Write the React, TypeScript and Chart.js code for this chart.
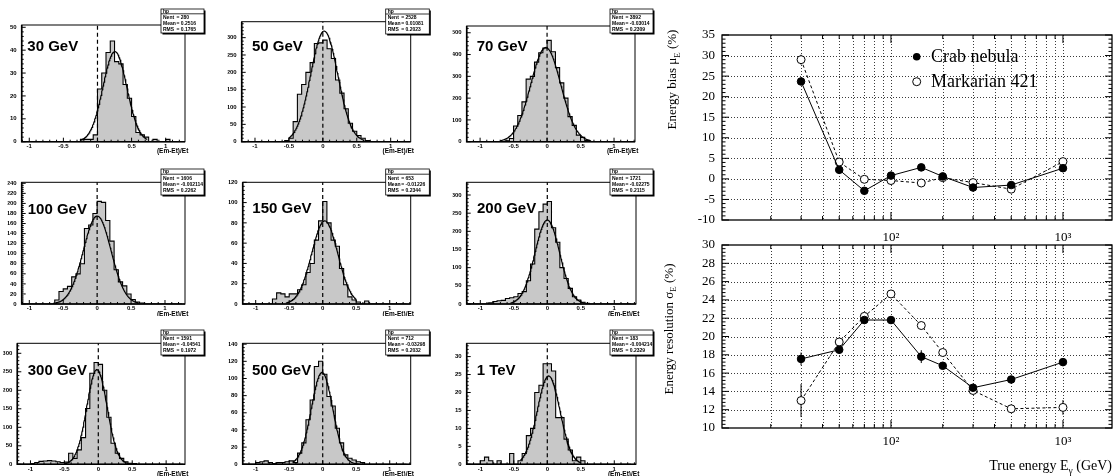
import React, { useEffect, useRef } from 'react';
import { Chart, registerables } from 'chart.js';

Chart.register(...registerables);

// ---------------- Histogram data: (Em-Et)/Et, 40 bins of width 0.0625 starting at -1.25 ----------------
const BIN_LOW = -1.25;
const BIN_WIDTH = 0.0625;

const panelTitles = ['30 GeV', '50 GeV', '70 GeV', '100 GeV', '150 GeV', '200 GeV', '300 GeV', '500 GeV', '1 TeV'];

const hist30 = [0, 0, 0, 0, 0, 0, 0, 0, 0, 0, 0, 0, 0, 0, 0, 0, 1, 1, 1, 3, 23, 30, 39, 44, 35, 34, 25, 19, 11, 4, 3, 2, 0, 1, 0, 0, 1, 0, 0, 0];
const hist50 = [0, 0, 0, 0, 0, 0, 0, 0, 0, 0, 0, 3, 10, 58, 137, 165, 200, 228, 283, 285, 293, 268, 240, 178, 140, 95, 53, 30, 18, 10, 3, 0, 0, 0, 0, 0, 0, 0, 0, 0];
const hist70 = [0, 0, 0, 0, 0, 0, 0, 0, 0, 0, 4, 15, 72, 120, 183, 287, 300, 365, 408, 430, 465, 413, 340, 270, 200, 115, 75, 30, 20, 6, 0, 0, 0, 0, 0, 0, 0, 0, 0, 0];
const hist100 = [0, 0, 0, 0, 0, 0, 0, 0, 0, 0, 8, 25, 30, 35, 54, 60, 80, 150, 157, 180, 204, 202, 166, 125, 68, 44, 36, 20, 9, 4, 2, 0, 0, 0, 0, 0, 0, 0, 0, 0];
const hist150 = [0, 0, 0, 0, 0, 0, 0, 0, 5, 11, 10, 7, 10, 10, 14, 19, 31, 40, 63, 82, 101, 80, 63, 57, 35, 19, 7, 4, 2, 0, 3, 0, 0, 0, 0, 0, 0, 0, 0, 0];
const hist200 = [0, 0, 0, 0, 0, 0, 3, 7, 9, 10, 15, 17, 20, 29, 34, 64, 110, 206, 254, 275, 282, 210, 170, 100, 70, 43, 20, 11, 5, 2, 0, 0, 0, 0, 0, 0, 0, 0, 0, 0];
const hist300 = [0, 0, 0, 0, 2, 5, 8, 9, 10, 9, 7, 5, 6, 30, 16, 39, 72, 151, 246, 275, 270, 200, 127, 57, 30, 16, 7, 3, 2, 0, 0, 0, 0, 0, 0, 0, 0, 0, 0, 0];
const hist500 = [0, 0, 0, 0, 2, 3, 4, 2, 1, 2, 2, 3, 4, 2, 13, 25, 52, 75, 114, 120, 105, 79, 68, 42, 25, 11, 7, 5, 3, 2, 0, 0, 0, 0, 0, 0, 0, 0, 0, 0];
const hist1000 = [0, 0, 0, 0, 1, 2, 1, 0, 1, 0, 0, 3, 0, 1, 3, 8, 10, 20, 22, 28, 28, 26, 13, 13, 7, 4, 1, 2, 1, 0, 0, 0, 0, 0, 0, 0, 0, 0, 0, 0];
const panelCounts = [hist30, hist50, hist70, hist100, hist150, hist200, hist300, hist500, hist1000];

const statsNent = ['280', '2528', '3892', '1606', '653', '1721', '1591', '712', '183'];
const statsMean = ['0.2516', '0.01081', '-0.03014', '-0.002114', '-0.01226', '-0.02275', '-0.04541', '-0.03298', '-0.004214'];
const statsRms = ['0.1765', '0.2023', '0.2309', '0.2262', '0.2344', '0.2115', '0.1972', '0.2032', '0.2329'];

// Gaussian fit parameters
const fitAmp = [39.4, 319, 432, 175, 82, 231, 256, 107, 24.6];
const fitMean = [0.255, 0.02, -0.02, 0.0, 0.03, 0.0, -0.02, -0.01, 0.02];
const fitSigma = [0.175, 0.2, 0.225, 0.205, 0.195, 0.185, 0.15, 0.16, 0.17];
const fitLo = [-0.25, -0.5, -0.7, -0.65, -0.55, -0.55, -0.5, -0.45, -0.4];
const fitHi = [0.72, 0.6, 0.65, 0.6, 0.5, 0.55, 0.5, 0.55, 0.5];

const xTickValues = [-1, -0.5, 0, 0.5, 1];
const panelXMin = [-1.111, -1.196, -1.2, -1.112, -1.194, -1.203, -1.194, -1.194, -1.203];
const panelXMax = [1.283, 1.295, 1.313, 1.295, 1.313, 1.324, 1.278, 1.313, 1.324];
const panelYMax = [51, 346, 531, 242, 120, 335, 327, 141, 33.7];
const panelYStep = [10, 50, 100, 20, 20, 50, 50, 20, 5];

// ---------------- Energy bias / resolution data ----------------
const energies = [30, 50, 70, 100, 150, 200, 300, 500, 1000];
const crabBias = [23.7, 2.2, -2.9, 0.8, 2.8, 0.6, -2.1, -1.5, 2.6];
const mrkBias = [29.0, 4.1, -0.1, -0.4, -1.0, 0.3, -0.9, -2.5, 4.2];
const crabBiasErr = [0.8, 0.4, 0.4, 0.3, 0.5, 0.4, 0.3, 0.4, 0.5];
const mrkBiasErr = [1.2, 0.5, 0.4, 0.3, 0.4, 0.4, 0.3, 0.4, 0.9];
const crabRes = [17.55, 18.55, 21.8, 21.8, 17.8, 16.8, 14.4, 15.3, 17.2];
const mrkRes = [13.0, 19.4, 22.2, 24.65, 21.2, 18.25, 14.1, 12.1, 12.25];
const crabResErr = [0.7, 0.3, 0.3, 0.4, 0.7, 0.3, 0.2, 0.3, 0.4];
const mrkResErr = [1.8, 0.4, 0.3, 0.4, 0.4, 0.4, 0.3, 0.3, 0.8];

const logGridValues = [20, 30, 40, 50, 60, 70, 80, 90, 100, 200, 300, 400, 500, 600, 700, 800, 900, 1000];
const biasTicks = [-10, -5, 0, 5, 10, 15, 20, 25, 30, 35];
const resTicks = [10, 12, 14, 16, 18, 20, 22, 24, 26, 28, 30];

// ---------------- Layout (page pixels) ----------------
const PANEL_LAYOUT = [
  { canvas: [0, 0, 220, 155], frame: [21.7, 25, 185, 141.7], label: [27.3, 50.7], stats: [161, 9, 43, 24] },
  { canvas: [220, 0, 220, 155], frame: [241.7, 21.7, 410.7, 141.7], label: [252, 50.7], stats: [385.7, 9, 43.6, 25] },
  { canvas: [440, 0, 216, 155], frame: [466.7, 26, 635, 141.7], label: [476.7, 50.7], stats: [610, 9, 43, 24] },
  { canvas: [0, 155, 220, 161], frame: [21.7, 182.3, 185, 304], label: [27.7, 214.3], stats: [161, 169, 43, 26] },
  { canvas: [220, 155, 220, 161], frame: [242.7, 182.3, 410.7, 304], label: [252.3, 213.3], stats: [385.7, 169, 43.6, 26] },
  { canvas: [440, 155, 216, 161], frame: [466.7, 182.3, 636, 304], label: [477, 213.3], stats: [610, 169, 43, 26] },
  { canvas: [0, 316, 220, 160], frame: [17.3, 343.3, 185, 464.3], label: [27.7, 375], stats: [161, 330, 43, 25] },
  { canvas: [220, 316, 220, 160], frame: [242.7, 343.3, 410.7, 464.3], label: [252, 375], stats: [385.7, 330, 43.6, 25] },
  { canvas: [440, 316, 216, 160], frame: [466.7, 343.3, 636, 464.3], label: [476.7, 375], stats: [610, 330, 43, 25] },
];

const SANS = '"Liberation Sans", Arial, Helvetica, sans-serif';
const SERIF = '"Liberation Serif", "Times New Roman", serif';

function HistPanel({ idx }: { idx: number }) {
  const ref = useRef<HTMLCanvasElement | null>(null);
  const L = PANEL_LAYOUT[idx];
  const [cx, cy, cw, ch] = L.canvas;

  useEffect(() => {
    const [fl, ft, fr, fb] = L.frame;
    const YW = 14;
    const XH = 10;
    const counts = panelCounts[idx];
    const histPts = counts.map((v, i) => ({ x: BIN_LOW + i * BIN_WIDTH, y: v }));
    histPts.push({ x: BIN_LOW + counts.length * BIN_WIDTH, y: counts[counts.length - 1] });

    const fitPts: { x: number; y: number }[] = [];
    const nS = 160;
    for (let k = 0; k <= nS; k++) {
      const x = fitLo[idx] + ((fitHi[idx] - fitLo[idx]) * k) / nS;
      const d = (x - fitMean[idx]) / fitSigma[idx];
      fitPts.push({ x, y: fitAmp[idx] * Math.exp(-0.5 * d * d) });
    }

    const yTicks: number[] = [];
    for (let v = 0; v <= panelYMax[idx] + 1e-9; v += panelYStep[idx]) yTicks.push(v);

    const tickFont = { family: SANS, size: 6, weight: 'bold' as const };

    const deco = {
      id: 'deco',
      afterDatasetsDraw(chart: any) {
        const ctx: CanvasRenderingContext2D = chart.ctx;
        const a = chart.chartArea;
        const xs = chart.scales.x;
        const ys = chart.scales.y;
        ctx.save();
        // dashed zero line
        const x0 = xs.getPixelForValue(0);
        ctx.strokeStyle = '#000';
        ctx.lineWidth = 1.2;
        ctx.setLineDash([4, 3]);
        ctx.beginPath();
        ctx.moveTo(x0, a.bottom);
        ctx.lineTo(x0, a.top);
        ctx.stroke();
        ctx.setLineDash([]);
        // frame
        ctx.lineWidth = 1;
        ctx.strokeRect(a.left, a.top, a.right - a.left, a.bottom - a.top);
        ctx.lineWidth = 1.6;
        ctx.beginPath();
        ctx.moveTo(a.left, a.top);
        ctx.lineTo(a.left, a.bottom);
        ctx.lineTo(a.right, a.bottom);
        ctx.stroke();
        // ticks
        ctx.lineWidth = 1;
        ctx.beginPath();
        const kx0 = Math.ceil(panelXMin[idx] * 10);
        const kx1 = Math.floor(panelXMax[idx] * 10);
        for (let k = kx0; k <= kx1; k++) {
          const major = k % 5 === 0;
          const px = xs.getPixelForValue(k / 10);
          ctx.moveTo(px, a.bottom);
          ctx.lineTo(px, a.bottom - (major ? 4 : 2));
        }
        const minor = panelYStep[idx] / 5;
        const ky1 = Math.floor(panelYMax[idx] / minor + 1e-6);
        for (let k = 0; k <= ky1; k++) {
          const major = k % 5 === 0;
          const py = ys.getPixelForValue(k * minor);
          ctx.moveTo(a.left, py);
          ctx.lineTo(a.left + (major ? 4 : 2), py);
        }
        ctx.stroke();
        // energy label
        ctx.fillStyle = '#000';
        ctx.font = `bold 15px ${SANS}`;
        ctx.textAlign = 'left';
        ctx.textBaseline = 'alphabetic';
        ctx.fillText(panelTitles[idx], L.label[0] - cx, L.label[1] - cy);
        // x axis title
        ctx.font = `bold 6.5px ${SANS}`;
        ctx.textAlign = 'right';
        ctx.textBaseline = 'middle';
        ctx.fillText('(Em-Et)/Et', fr + 3.3 - cx, fb + 10 - cy);
        // stats box
        const [sx, sy, sw, sh] = L.stats;
        const bx = sx - cx;
        const by = sy - cy;
        ctx.fillStyle = '#000';
        ctx.fillRect(bx + 1.5, by + 1.5, sw, sh);
        ctx.fillStyle = '#fff';
        ctx.fillRect(bx, by, sw, sh);
        ctx.strokeStyle = '#000';
        ctx.lineWidth = 0.8;
        ctx.strokeRect(bx, by, sw, sh);
        ctx.beginPath();
        ctx.moveTo(bx, by + sh * 0.2);
        ctx.lineTo(bx + sw, by + sh * 0.2);
        ctx.stroke();
        ctx.fillStyle = '#000';
        ctx.font = `bold 5px ${SANS}`;
        ctx.textAlign = 'left';
        ctx.textBaseline = 'middle';
        ctx.fillText('hp', bx + 2, by + sh * 0.1);
        const rows: [string, string][] = [
          ['Nent', statsNent[idx]],
          ['Mean', statsMean[idx]],
          ['RMS', statsRms[idx]],
        ];
        const rowY = [0.36, 0.6, 0.84];
        rows.forEach(([k, v], i) => {
          ctx.fillText(k, bx + 2, by + sh * rowY[i]);
          ctx.fillText('= ' + v, bx + 15.5, by + sh * rowY[i]);
        });
        ctx.restore();
      },
    };

    const chart = new Chart(ref.current as HTMLCanvasElement, {
      type: 'line',
      data: {
        datasets: [
          { data: fitPts, borderColor: '#000', borderWidth: 1.2, pointRadius: 0, fill: false, tension: 0 },
          {
            data: histPts,
            stepped: 'before',
            borderColor: '#000',
            borderWidth: 1.1,
            backgroundColor: '#c8c8c8',
            fill: 'origin',
            pointRadius: 0,
          },
        ],
      } as any,
      options: {
        animation: false,
        responsive: false,
        events: [],
        layout: {
          autoPadding: false,
          padding: { left: fl - cx - YW, top: ft - cy, right: cx + cw - fr, bottom: cy + ch - fb - XH },
        },
        plugins: { legend: { display: false }, tooltip: { enabled: false } },
        scales: {
          x: {
            type: 'linear',
            min: panelXMin[idx],
            max: panelXMax[idx],
            grid: { display: false, drawTicks: false },
            border: { display: false },
            afterBuildTicks: (s: any) => {
              s.ticks = xTickValues.map((v) => ({ value: v }));
            },
            afterFit: (s: any) => {
              s.height = XH;
            },
            ticks: { font: tickFont, color: '#000', padding: 1, maxRotation: 0, autoSkip: false, callback: (v: any) => String(v) },
          },
          y: {
            type: 'linear',
            min: 0,
            max: panelYMax[idx],
            grid: { display: false, drawTicks: false },
            border: { display: false },
            afterBuildTicks: (s: any) => {
              s.ticks = yTicks.map((v) => ({ value: v }));
            },
            afterFit: (s: any) => {
              s.width = YW;
            },
            ticks: { font: tickFont, color: '#000', padding: 5, autoSkip: false, callback: (v: any) => String(v) },
          },
        },
      } as any,
      plugins: [deco],
    });
    return () => chart.destroy();
  }, [idx]);

  return (
    <canvas
      ref={ref}
      width={cw}
      height={ch}
      style={{ position: 'absolute', left: cx, top: cy, width: cw, height: ch }}
    />
  );
}

type Part = { t: string; sub?: boolean };
function drawParts(
  ctx: CanvasRenderingContext2D,
  parts: Part[],
  x: number,
  y: number,
  size: number,
  align: 'center' | 'right',
  rotate: boolean
) {
  ctx.save();
  ctx.translate(x, y);
  if (rotate) ctx.rotate(-Math.PI / 2);
  const subSize = size * 0.68;
  const widths = parts.map((p) => {
    ctx.font = `${p.sub ? subSize : size}px ${SERIF}`;
    return ctx.measureText(p.t).width;
  });
  const total = widths.reduce((s, w) => s + w, 0);
  let px = align === 'center' ? -total / 2 : -total;
  ctx.textAlign = 'left';
  ctx.textBaseline = 'alphabetic';
  ctx.fillStyle = '#000';
  parts.forEach((p, i) => {
    ctx.font = `${p.sub ? subSize : size}px ${SERIF}`;
    ctx.fillText(p.t, px, p.sub ? size * 0.3 : 0);
    px += widths[i];
  });
  ctx.restore();
}

const ENERGY_LAYOUT = [
  { canvas: [650, 0, 470, 250], frame: [722, 35, 1112, 220], xPad: 10 },
  { canvas: [650, 225, 470, 251], frame: [722, 245, 1112, 428], xPad: 6 },
];

function EnergyPanel({ which }: { which: number }) {
  const ref = useRef<HTMLCanvasElement | null>(null);
  const L = ENERGY_LAYOUT[which];
  const [cx, cy, cw, ch] = L.canvas;

  useEffect(() => {
    const [fl, ft, fr, fb] = L.frame;
    const isBias = which === 0;
    const crab = isBias ? crabBias : crabRes;
    const mrk = isBias ? mrkBias : mrkRes;
    const crabErr = isBias ? crabBiasErr : crabResErr;
    const mrkErr = isBias ? mrkBiasErr : mrkResErr;
    const yTicks = isBias ? biasTicks : resTicks;
    const yMin = yTicks[0];
    const yMax = yTicks[yTicks.length - 1];
    const minorStep = isBias ? 1 : 0.4;
    const majorStep = isBias ? 5 : 2;
    const YW = 26;
    const XH = 22;

    const deco = {
      id: 'energyDeco',
      beforeDatasetsDraw(chart: any) {
        const ctx: CanvasRenderingContext2D = chart.ctx;
        const a = chart.chartArea;
        const xs = chart.scales.x;
        const ys = chart.scales.y;
        ctx.save();
        ctx.strokeStyle = '#3a3a3a';
        ctx.lineWidth = 1;
        ctx.setLineDash([1, 2]);
        ctx.beginPath();
        logGridValues.forEach((v) => {
          const px = Math.round(xs.getPixelForValue(v)) + 0.5;
          ctx.moveTo(px, a.top);
          ctx.lineTo(px, a.bottom);
        });
        yTicks.forEach((v) => {
          if (v === yMin || v === yMax) return;
          const py = Math.round(ys.getPixelForValue(v)) + 0.5;
          ctx.moveTo(a.left, py);
          ctx.lineTo(a.right, py);
        });
        ctx.stroke();
        ctx.setLineDash([]);
        // error bars
        ctx.strokeStyle = '#000';
        ctx.lineWidth = 1;
        ctx.beginPath();
        energies.forEach((e, i) => {
          const px = xs.getPixelForValue(e);
          ctx.moveTo(px, ys.getPixelForValue(crab[i] - crabErr[i]));
          ctx.lineTo(px, ys.getPixelForValue(crab[i] + crabErr[i]));
          ctx.moveTo(px, ys.getPixelForValue(mrk[i] - mrkErr[i]));
          ctx.lineTo(px, ys.getPixelForValue(mrk[i] + mrkErr[i]));
        });
        ctx.stroke();
        ctx.restore();
      },
      afterDatasetsDraw(chart: any) {
        const ctx: CanvasRenderingContext2D = chart.ctx;
        const a = chart.chartArea;
        const xs = chart.scales.x;
        const ys = chart.scales.y;
        ctx.save();
        ctx.strokeStyle = '#000';
        ctx.lineWidth = 1.3;
        ctx.strokeRect(a.left, a.top, a.right - a.left, a.bottom - a.top);
        ctx.lineWidth = 1;
        ctx.beginPath();
        logGridValues.forEach((v) => {
          const px = xs.getPixelForValue(v);
          const len = v === 100 || v === 1000 ? 8 : 4;
          ctx.moveTo(px, a.bottom);
          ctx.lineTo(px, a.bottom - len);
          ctx.moveTo(px, a.top);
          ctx.lineTo(px, a.top + len);
        });
        const nMinor = Math.round((yMax - yMin) / minorStep);
        for (let k = 0; k <= nMinor; k++) {
          const v = yMin + k * minorStep;
          const major = Math.abs(v / majorStep - Math.round(v / majorStep)) < 1e-6;
          const len = major ? 7 : 3.5;
          const py = ys.getPixelForValue(v);
          ctx.moveTo(a.left, py);
          ctx.lineTo(a.left + len, py);
          ctx.moveTo(a.right, py);
          ctx.lineTo(a.right - len, py);
        }
        ctx.stroke();
        if (isBias) {
          const lx = a.left + 194.7;
          ctx.fillStyle = '#000';
          ctx.beginPath();
          ctx.arc(lx, a.top + 21.7, 3.8, 0, Math.PI * 2);
          ctx.fill();
          ctx.fillStyle = '#fff';
          ctx.beginPath();
          ctx.arc(lx, a.top + 46.7, 4, 0, Math.PI * 2);
          ctx.fill();
          ctx.stroke();
          ctx.fillStyle = '#000';
          ctx.font = `18px ${SERIF}`;
          ctx.textAlign = 'left';
          ctx.textBaseline = 'middle';
          ctx.fillText('Crab nebula', a.left + 209, a.top + 22.5);
          ctx.fillText('Markarian 421', a.left + 209, a.top + 47.5);
        }
        ctx.restore();
      },
      afterDraw(chart: any) {
        const ctx: CanvasRenderingContext2D = chart.ctx;
        if (isBias) {
          drawParts(ctx, [{ t: 'Energy bias μ' }, { t: 'E', sub: true }, { t: ' (%)' }], 26.2, 79.5, 13, 'center', true);
        } else {
          drawParts(ctx, [{ t: 'Energy resolution σ' }, { t: 'E', sub: true }, { t: ' (%)' }], 22.5, 104, 13, 'center', true);
          drawParts(ctx, [{ t: 'True energy E' }, { t: 'γ', sub: true }, { t: ' (GeV)' }], 462, 245, 14, 'right', false);
        }
      },
    };

    const chart = new Chart(ref.current as HTMLCanvasElement, {
      type: 'line',
      data: {
        datasets: [
          {
            label: 'Crab nebula',
            data: energies.map((e, i) => ({ x: e, y: crab[i] })),
            borderColor: '#000',
            borderWidth: 1,
            pointRadius: 3.8,
            pointBackgroundColor: '#000',
            pointBorderColor: '#000',
            pointBorderWidth: 1,
            fill: false,
            tension: 0,
          },
          {
            label: 'Markarian 421',
            data: energies.map((e, i) => ({ x: e, y: mrk[i] })),
            borderColor: '#000',
            borderWidth: 1,
            borderDash: [3, 2.5],
            pointRadius: 4,
            pointBackgroundColor: '#fff',
            pointBorderColor: '#000',
            pointBorderWidth: 1,
            fill: false,
            tension: 0,
          },
        ],
      } as any,
      options: {
        animation: false,
        responsive: false,
        events: [],
        layout: {
          autoPadding: false,
          padding: { left: fl - cx - YW, top: ft - cy, right: cx + cw - fr, bottom: cy + ch - fb - XH },
        },
        plugins: { legend: { display: false }, tooltip: { enabled: false } },
        scales: {
          x: {
            type: 'logarithmic',
            min: 10.41,
            max: 1928,
            grid: { display: false, drawTicks: false },
            border: { display: false },
            afterBuildTicks: (s: any) => {
              s.ticks = logGridValues.map((v) => ({ value: v }));
            },
            afterFit: (s: any) => {
              s.height = XH;
            },
            ticks: {
              autoSkip: false,
              maxRotation: 0,
              padding: L.xPad,
              color: '#000',
              font: { family: SERIF, size: 13 },
              callback: (v: any) => (v === 100 ? '10²' : v === 1000 ? '10³' : ''),
            },
          },
          y: {
            type: 'linear',
            min: yMin,
            max: yMax,
            grid: { display: false, drawTicks: false },
            border: { display: false },
            afterBuildTicks: (s: any) => {
              s.ticks = yTicks.map((v) => ({ value: v }));
            },
            afterFit: (s: any) => {
              s.width = YW;
            },
            ticks: { autoSkip: false, padding: 7, color: '#000', font: { family: SERIF, size: 13 }, callback: (v: any) => String(v) },
          },
        },
      } as any,
      plugins: [deco],
    });
    return () => chart.destroy();
  }, [which]);

  return (
    <canvas
      ref={ref}
      width={cw}
      height={ch}
      style={{ position: 'absolute', left: cx, top: cy, width: cw, height: ch }}
    />
  );
}

export default function App() {
  return (
    <div style={{ position: 'absolute', left: 0, top: 0, width: 1120, height: 476, background: '#fff', overflow: 'hidden' }}>
      {PANEL_LAYOUT.map((_, i) => (
        <HistPanel key={i} idx={i} />
      ))}
      <EnergyPanel which={0} />
      <EnergyPanel which={1} />
    </div>
  );
}
